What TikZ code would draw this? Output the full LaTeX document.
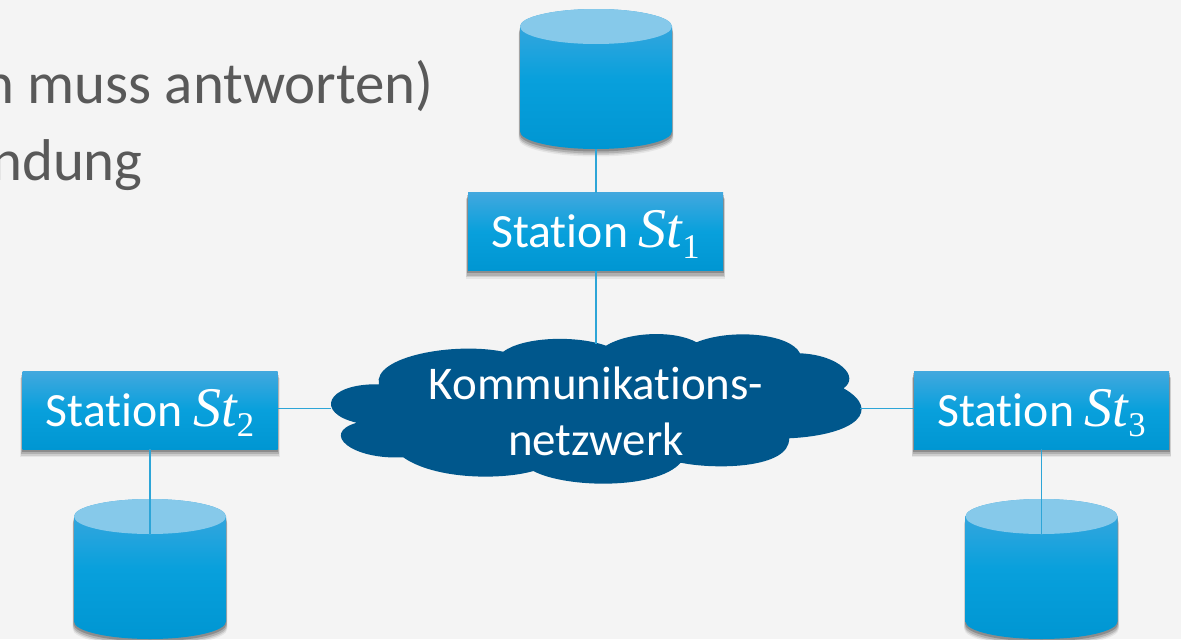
\documentclass[tikz,border=0pt]{standalone}
\usepackage{fontspec}
\setmainfont{Carlito}[Ligatures=NoCommon]
\newfontfamily\stfont{Liberation Serif}
\usetikzlibrary{shapes.geometric,shadows}

\definecolor{slidebg}{RGB}{244,244,244}
\definecolor{slidetext}{RGB}{89,89,89}
\definecolor{boxtop}{RGB}{66,168,222}
\definecolor{boxmid}{RGB}{8,160,220}
\definecolor{boxbottom}{RGB}{0,150,210}
\definecolor{disktopfill}{RGB}{134,201,234}
\definecolor{netzfill}{RGB}{0,87,140}
\definecolor{linkcolor}{RGB}{45,165,215}

\newcommand{\stlabel}[1]{\raisebox{-12.2pt}[0pt][0pt]{Station {\stfont\itshape\fontsize{42}{42}\selectfont St}\raisebox{-0.22em}{\stfont\fontsize{26}{26}\selectfont #1}}}

\tikzset{
	softshadow/.style={
		general shadow={shadow xshift=0pt,shadow yshift=-5.5pt,shadow scale=1.018,fill=black,opacity=0.06},
		general shadow={shadow xshift=0pt,shadow yshift=-4.5pt,shadow scale=1.014,fill=black,opacity=0.1},
		general shadow={shadow xshift=0pt,shadow yshift=-3.5pt,shadow scale=1.01,fill=black,opacity=0.14},
		general shadow={shadow xshift=0pt,shadow yshift=-2pt,shadow scale=1.005,fill=black,opacity=0.2}},
	stationbox/.style={rectangle,minimum width=191.25pt,minimum height=58.5pt,inner sep=0pt,outer sep=0pt,
		softshadow,top color=boxtop,bottom color=boxbottom,middle color=boxmid,text=white,font=\fontsize{35.8}{42}\selectfont},
	diskoutline/.style={insert path={(-76,0) -- (-76,105) arc[start angle=180,end angle=0,x radius=76,y radius=17.5]
		-- (76,0) arc[start angle=0,end angle=-180,x radius=76,y radius=17.5] -- cycle}},
	disktop/.style={ellipse,minimum width=114pt,minimum height=26.25pt,inner sep=0pt,outer sep=0pt,fill=disktopfill},
	link/.style={color=linkcolor,line width=0.9pt},
	slideline/.style={text=slidetext,inner sep=0pt,font=\fontsize{44.2}{50}\selectfont}
}

%disk with its lid as a named node
\newcommand{\diskat}[3]{
	\fill[black,opacity=0.06,shift={(#2,#3+7.5)},xscale=1.018,diskoutline];
	\fill[black,opacity=0.1,shift={(#2,#3+6)},xscale=1.014,diskoutline];
	\fill[black,opacity=0.14,shift={(#2,#3+4.5)},xscale=1.01,diskoutline];
	\fill[black,opacity=0.2,shift={(#2,#3+2.5)},xscale=1.005,diskoutline];
	\shade[shift={(#2,#3)},top color=boxtop,bottom color=boxbottom,middle color=boxmid,diskoutline];
	\node[disktop] (#1) at (#2,#3) {};
}

\begin{document}
\begin{tikzpicture}[x=0.75pt,y=0.75pt,yscale=-1,xscale=1]
	\useasboundingbox (0,0) rectangle (1181,639);
	\clip (0,0) rectangle (1181,639);
	\fill[slidebg] (0,0) rectangle (1181,639);
	
	%text behind the picture, cut at the left
	\node[slideline,anchor=base east] (line1) at (434,103) {n muss antworten)};
	\node[slideline,anchor=base east] (line2) at (143,180) {ndung};
	
	%disks
	\diskat{disk1}{596}{26.5}
	\diskat{disk2}{150}{516.5}
	\diskat{disk3}{1041.5}{516.5}
	\coordinate (disk1S) at (596,149);
	
	%stations
	\node[stationbox] (st1) at (595.5,231.5) {\stlabel{1}};
	\node[stationbox] (st2) at (150,410) {\stlabel{2}};
	\node[stationbox] (st3) at (1041.5,410) {\stlabel{3}};
	
	%cloud
	\fill[netzfill] (378.9,384.3) .. controls (372.6,356.7) and (453.4,341.7) .. (503.2,351.7)
		.. controls (523.5,336.7) and (576.1,335) .. (606,345.7)
		.. controls (628.7,331.7) and (674.4,330) .. (696.5,342.3)
		.. controls (730.5,328.3) and (790.2,333.3) .. (800,353.3)
		.. controls (839.3,355) and (860.3,376.7) .. (843.5,388.3)
		.. controls (882,410) and (856.8,435) .. (789.1,438.3)
		.. controls (790.2,468.3) and (716.5,470) .. (680.7,462.7)
		.. controls (656.8,490) and (565.6,488.3) .. (533.4,471)
		.. controls (502.4,480) and (435.8,480) .. (403.2,457.3)
		.. controls (351.6,460) and (320,433.3) .. (356.8,422.7)
		.. controls (315,413.3) and (325,383.3) .. (378.9,384.3) -- cycle;
	\node[text=white,inner sep=0pt,align=center,font=\fontsize{35.2}{42}\selectfont] (netz) at (596,411) {Kommunikations-\\netzwerk};
	\coordinate (netzN) at (596,344);
	\coordinate (netzW) at (331,408.5);
	\coordinate (netzE) at (860,408.5);
	
	%connections
	\draw[link] (disk1S) -- (disk1S |- st1.north);
	\draw[link] (st1.south -| netzN) -- (netzN);
	\draw[link] (st2.east |- netzW) -- (netzW);
	\draw[link] (st3.west |- netzE) -- (netzE);
	\draw[link] (st2.south) -- (disk2.south);
	\draw[link] (st3.south) -- (disk3.south);
\end{tikzpicture}
\end{document}
